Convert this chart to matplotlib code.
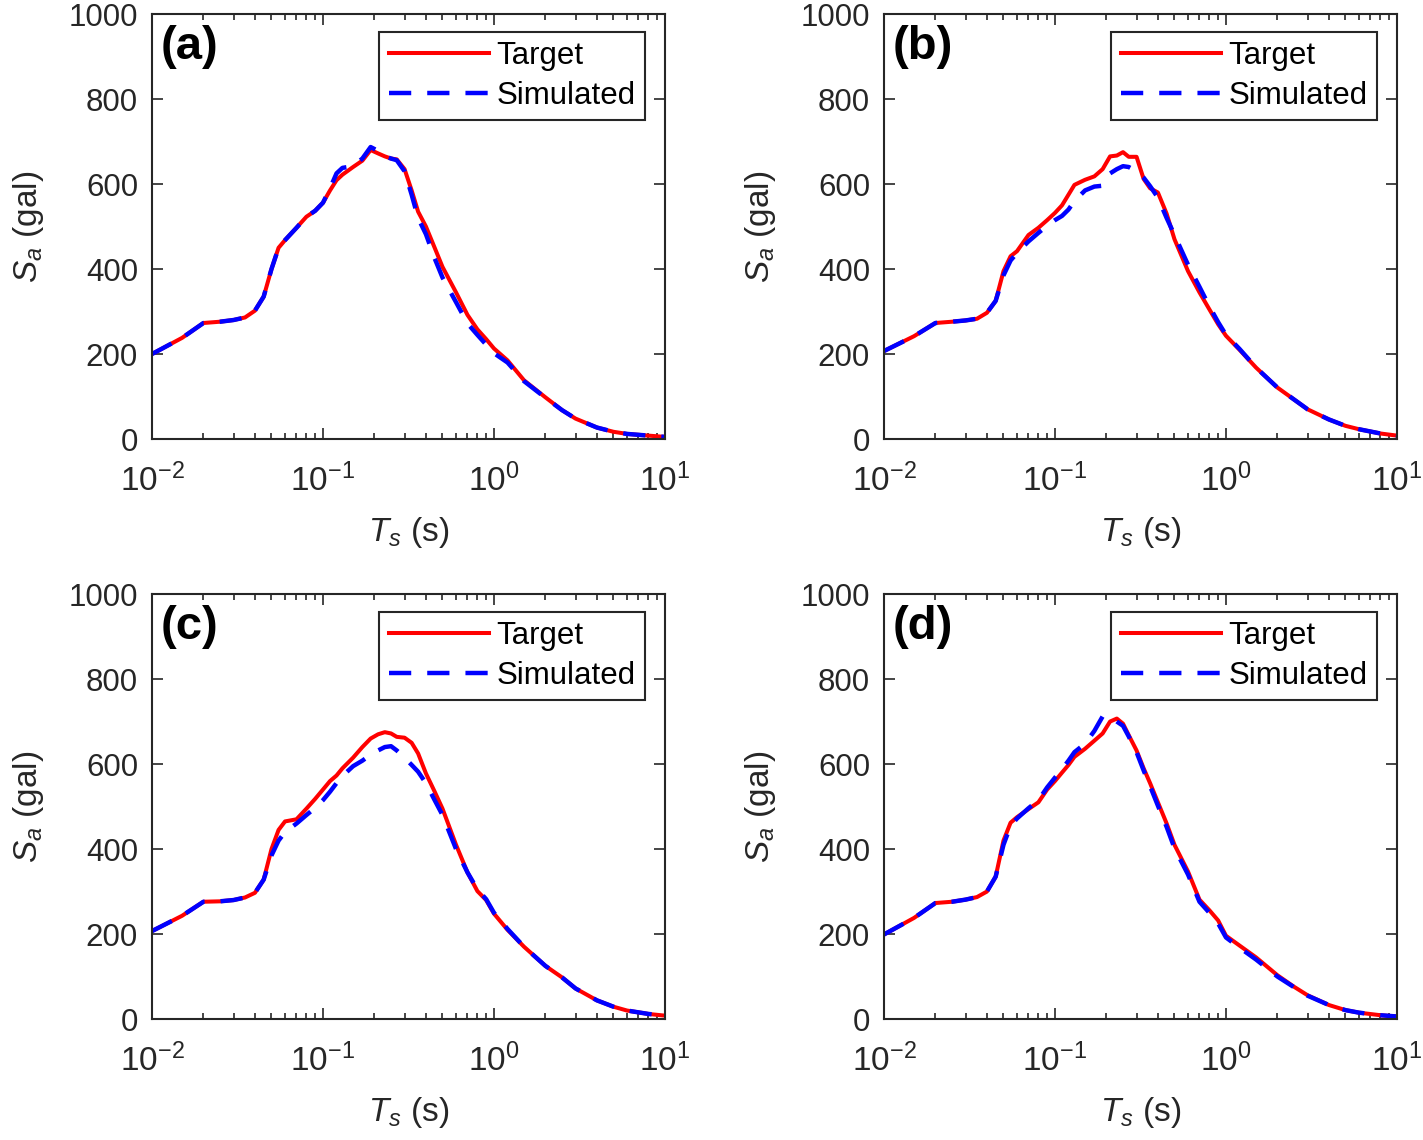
import numpy as np
import matplotlib.pyplot as plt
from matplotlib.ticker import LogLocator, NullFormatter

plt.rcParams['font.family'] = ['Liberation Sans', 'DejaVu Sans']
plt.rcParams['mathtext.fontset'] = 'custom'
plt.rcParams['mathtext.rm'] = 'Liberation Sans'
plt.rcParams['mathtext.it'] = 'Liberation Sans:italic'

# periodi (s)
T = [0.01, 0.015, 0.02, 0.025, 0.03, 0.035, 0.04, 0.045, 0.05, 0.055, 0.06, 0.07,
     0.08, 0.09, 0.1, 0.11, 0.12, 0.13, 0.15, 0.17, 0.19, 0.21, 0.23, 0.25, 0.27,
     0.3, 0.33, 0.36, 0.4, 0.45, 0.5, 0.6, 0.7, 0.8, 0.9, 1.0, 1.2, 1.5, 2.0, 2.5,
     3.0, 4.0, 5.0, 6.0, 8.0, 10.0]

# (a)
target_a = [200, 238, 273, 276, 280, 286, 302, 335, 400, 450, 468, 497, 523, 537, 556,
            585, 609, 622, 640, 655, 680, 672, 665, 660, 658, 635, 585, 535, 500, 450,
            405, 345, 292, 258, 235, 213, 185, 138, 98, 68, 48, 27, 17, 12, 8, 5]
sim_a = [200, 238, 273, 276, 280, 286, 302, 335, 400, 450, 468, 497, 523, 537, 556,
         590, 625, 638, 642, 660, 687, 678, 665, 660, 656, 630, 575, 520, 482, 425,
         380, 322, 272, 245, 222, 202, 180, 136, 97, 68, 48, 27, 17, 12, 8, 5]

# (b)
target_b = [207, 242, 273, 276, 279, 283, 297, 325, 395, 430, 442, 480, 497, 515, 532,
            550, 575, 598, 610, 618, 635, 665, 667, 675, 664, 664, 612, 590, 580, 530,
            470, 395, 345, 305, 270, 243, 210, 168, 121, 93, 70, 46, 31, 23, 13, 8]
sim_b = [207, 242, 273, 276, 279, 283, 297, 325, 385, 420, 438, 465, 485, 502, 515,
         525, 540, 560, 585, 594, 596, 625, 635, 642, 640, 630, 615, 595, 568, 520,
         480, 410, 358, 312, 275, 245, 212, 168, 121, 93, 70, 46, 31, 23, 13, 8]

# (c)
target_c = [207, 243, 276, 277, 280, 286, 297, 328, 400, 445, 465, 470, 495, 518, 540,
            560, 573, 590, 615, 640, 660, 670, 675, 672, 664, 662, 650, 625, 578, 535,
            495, 410, 345, 301, 280, 248, 210, 170, 125, 98, 72, 44, 29, 20, 12, 8]
sim_c = [207, 243, 276, 277, 280, 286, 297, 328, 385, 420, 440, 460, 480, 497, 515,
         535, 555, 572, 595, 608, 622, 632, 640, 642, 632, 615, 598, 582, 555, 515,
         480, 400, 345, 305, 282, 250, 212, 170, 125, 98, 72, 44, 29, 20, 12, 8]

# (d)
target_d = [199, 238, 273, 276, 281, 287, 300, 335, 420, 462, 475, 494, 510, 540, 560,
            580, 598, 617, 636, 655, 672, 700, 707, 695, 668, 632, 590, 555, 510, 460,
            410, 347, 281, 256, 232, 196, 173, 145, 103, 76, 56, 33, 21, 15, 9, 6]
sim_d = [199, 238, 273, 276, 281, 287, 300, 335, 410, 455, 472, 496, 515, 545, 568,
         588, 608, 628, 648, 678, 712, 712, 700, 690, 665, 628, 585, 548, 502, 452,
         402, 340, 276, 250, 225, 192, 168, 140, 100, 75, 55, 33, 21, 15, 9, 6]

panels = ['(a)', '(b)', '(c)', '(d)']
targets = [target_a, target_b, target_c, target_d]
sims = [sim_a, sim_b, sim_c, sim_d]
positions = [[0.1068, 0.6149, 0.3605, 0.3728], [0.6212, 0.6149, 0.3605, 0.3728],
             [0.1068, 0.1061, 0.3605, 0.3728], [0.6212, 0.1061, 0.3605, 0.3728]]

grey = '#262626'
fs = 22.5

fig = plt.figure(figsize=(14.23, 11.4), dpi=100)

for i in range(4):
    ax = fig.add_axes(positions[i])
    ax.plot(T, targets[i], '-', color='#ff0000', lw=2.9, label='Target')
    ax.plot(T, sims[i], '--', color='#0000ff', lw=3.2, dashes=(5, 3.6), label='Simulated')

    ax.set_xscale('log')
    ax.set_xlim(0.01, 10)
    ax.set_ylim(0, 1000)
    ax.set_yticks([0, 200, 400, 600, 800, 1000])
    ax.xaxis.set_major_locator(LogLocator(base=10, numticks=10))
    ax.xaxis.set_minor_locator(LogLocator(base=10, subs=np.arange(2, 10), numticks=10))
    ax.xaxis.set_minor_formatter(NullFormatter())

    ax.tick_params(which='both', direction='in', top=True, right=True,
                   colors=grey, labelsize=fs, width=1.2)
    ax.tick_params(which='major', length=8)
    ax.tick_params(axis='y', which='major', pad=10)
    ax.tick_params(axis='x', which='major', pad=18, labelsize=24)
    ax.tick_params(which='minor', length=4)
    for s in ax.spines.values():
        s.set_color(grey)
        s.set_linewidth(1.5)

    ax.set_xlabel(r'$T_s$ (s)', fontsize=24, color=grey, labelpad=12)
    ax.set_ylabel(r'$S_a$ (gal)', fontsize=24, color=grey, labelpad=16)

    ax.text(0.016, 0.975, panels[i], transform=ax.transAxes, fontsize=34,
            fontweight='bold', ha='left', va='top')

    leg = ax.legend(loc='upper right', bbox_to_anchor=(0.961, 0.958), borderaxespad=0,
                    fontsize=fs, fancybox=False, handlelength=3.2, handletextpad=0.25,
                    labelspacing=0.3, borderpad=0.3)
    leg.get_frame().set_edgecolor(grey)
    leg.get_frame().set_linewidth(1.5)
    leg.get_frame().set_alpha(1)

fig.savefig('out.png', dpi=100)
